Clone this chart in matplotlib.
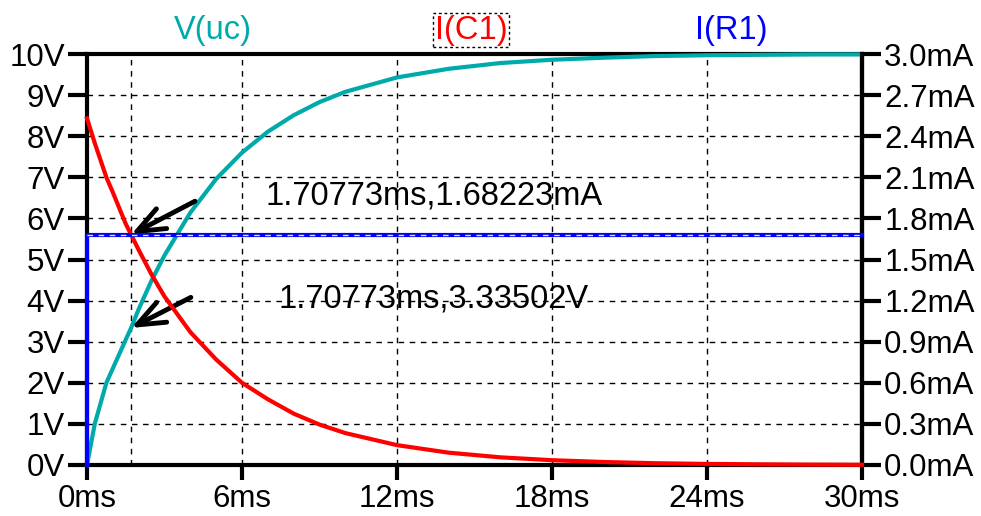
import matplotlib
matplotlib.use("Agg")
import matplotlib.pyplot as plt

plt.rcParams['font.family'] = ['Liberation Sans', 'DejaVu Sans']

# time axis (ms)
t_ms = [0, 0.3, 0.75, 1.0, 1.5, 1.7077, 2, 2.5, 3, 4, 5, 6, 7, 8, 9, 10,
        12, 14, 16, 18, 20, 22, 24, 26, 28, 30]
# V(uc) in volts
v_uc = [0, 1.0, 2.0, 2.35, 3.05, 3.335, 3.79, 4.49, 5.10, 6.14, 6.96, 7.60, 8.11,
        8.51, 8.83, 9.08, 9.43, 9.64, 9.78, 9.86, 9.91, 9.95, 9.97, 9.98, 9.99, 9.99]
# I(C1) in mA
i_c1 = [2.53, 2.35, 2.10, 1.99, 1.76, 1.682, 1.57, 1.39, 1.23, 0.97, 0.77, 0.60, 0.48,
        0.375, 0.295, 0.233, 0.145, 0.09, 0.056, 0.035, 0.022, 0.013, 0.008, 0.005,
        0.003, 0.002]
# I(R1) in mA
t_r1 = [0, 0, 30]
i_r1 = [0, 1.68223, 1.68223]

# cursor readout
cursor_t = 1.70773
cursor_i = 1.68223
cursor_v = 3.33502

x_ticks = [0, 6, 12, 18, 24, 30]
x_labels = [f"{v}ms" for v in x_ticks]
v_ticks = list(range(0, 11))
v_labels = [f"{v}V" for v in v_ticks]
i_ticks = [round(0.3 * k, 1) for k in range(11)]
i_labels = [f"{v:.1f}mA" for v in i_ticks]

CYAN = '#00AAAA'
RED = '#FF0000'
BLUE = '#0000FF'
FS = 22.5
FS_BIG = 23.5

fig = plt.figure(figsize=(9.81, 5.16), dpi=100)
ax = fig.add_axes([87 / 981, 1 - 465 / 516, (862 - 87) / 981, (465 - 54) / 516])
ax2 = ax.twinx()

ax.set_xlim(0, 30)
ax.set_ylim(0, 10)
ax2.set_ylim(0, 3)

# grid
for x in x_ticks[1:-1]:
    ax.axvline(x, color='black', lw=1, ls=(0, (4, 4)), zorder=1)
for y in v_ticks[1:-1]:
    ax.axhline(y, color='black', lw=1, ls=(0, (4, 4)), zorder=1)
ax.axvline(cursor_t, color='black', lw=1, ls=(0, (4, 4)), zorder=1)

ax.plot(t_ms, v_uc, color=CYAN, lw=3, zorder=3, clip_on=False)
ax2.plot(t_ms, i_c1, color=RED, lw=3, zorder=3, clip_on=False)
ax2.plot(t_r1, i_r1, color=BLUE, lw=3, zorder=4, clip_on=False)
ax2.axhline(cursor_i, color='yellow', lw=1, ls=(0, (4, 4)), zorder=5)

for a in (ax, ax2):
    for s in a.spines.values():
        s.set_linewidth(3)
ax2.spines['top'].set_visible(False)
ax2.spines['bottom'].set_visible(False)
ax2.spines['left'].set_visible(False)

ax.set_xticks(x_ticks, x_labels, fontsize=FS)
ax.set_yticks(v_ticks, v_labels, fontsize=FS)
ax2.set_yticks(i_ticks, i_labels, fontsize=FS)
ax.tick_params(axis='x', length=11, width=3, pad=3)
ax.tick_params(axis='y', length=14, width=3, pad=2)
ax2.tick_params(axis='y', length=14, width=3, pad=2)

# cursor readouts
ax.text(13.45, 6.55, f"{cursor_t}ms,{cursor_i}mA", fontsize=FS_BIG,
        ha='center', va='center')
ax.text(13.4, 4.05, f"{cursor_t}ms,{cursor_v}V", fontsize=FS_BIG,
        ha='center', va='center')
arrow = dict(arrowstyle='->, head_length=2.0, head_width=0.8', lw=3.5, color='black',
             shrinkA=0, shrinkB=0)
ax2.annotate('', xy=(cursor_t, cursor_i), xytext=(46, 24),
             textcoords='offset points', arrowprops=arrow)
ax.annotate('', xy=(cursor_t, cursor_v), xytext=(43, 22),
            textcoords='offset points', arrowprops=arrow)

# trace names
fig.text(213 / 981, 1 - 30 / 516, "V(uc)", color=CYAN, fontsize=FS_BIG,
         ha='center', va='center')
fig.text(471 / 981, 1 - 30 / 516, "I(C1)", color=RED, fontsize=FS_BIG,
         ha='center', va='center',
         bbox=dict(facecolor='none', edgecolor='black', ls=(0, (2, 2)), lw=1, pad=1))
fig.text(731 / 981, 1 - 30 / 516, "I(R1)", color=BLUE, fontsize=FS_BIG,
         ha='center', va='center')

fig.savefig('out.png', dpi=100)
